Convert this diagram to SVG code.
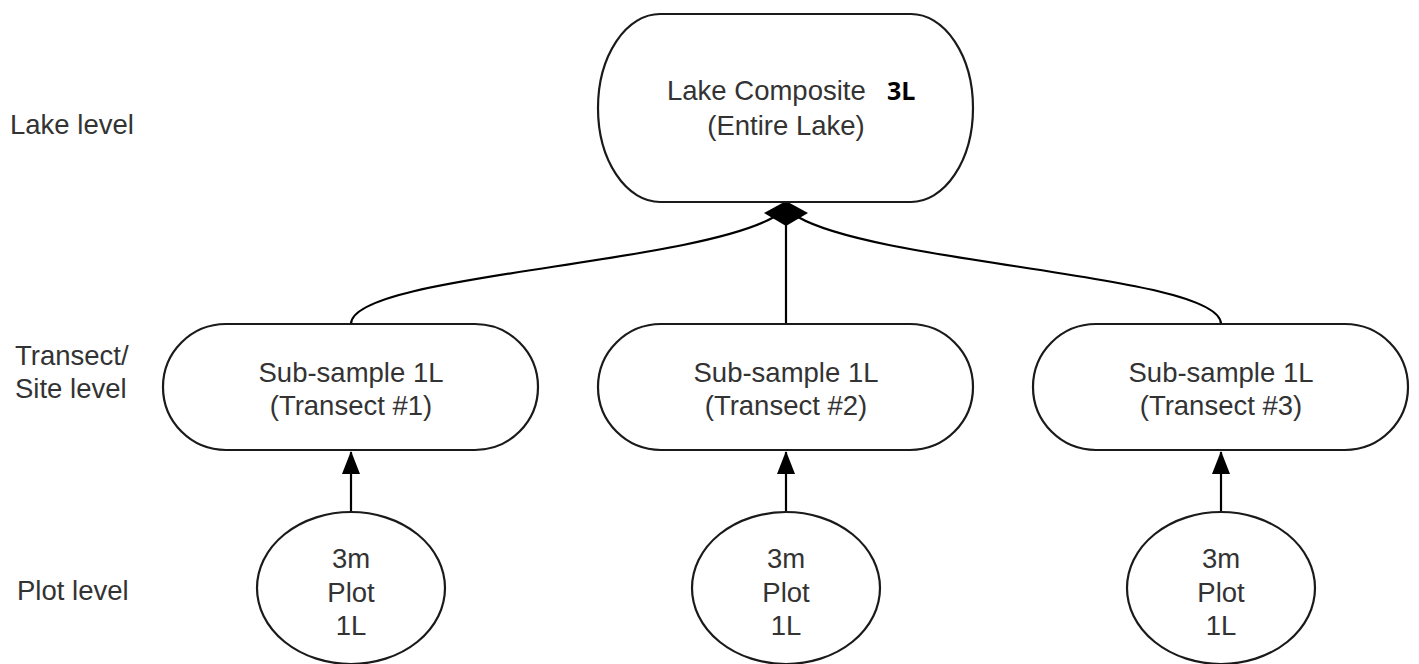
<svg xmlns="http://www.w3.org/2000/svg" width="1419" height="664" viewBox="0 0 1419 664">
<style>
.shape{fill:#ffffff;stroke:#1a1a1a;stroke-width:2.2}
.conn{fill:none;stroke:#000000;stroke-width:2.2}
.t{font-family:"Liberation Sans",Arial,sans-serif;font-size:27.5px;fill:#333333}
.c{text-anchor:middle}
.b{font-family:"Open Sans","Liberation Sans",sans-serif;font-size:25px;font-weight:bold;fill:#000000}
</style>
<defs>
<marker id="arr" markerUnits="userSpaceOnUse" markerWidth="23" markerHeight="18" refX="22" refY="9" orient="auto" viewBox="0 0 23 18">
<path d="M0,0 L23,9 L0,18 Z" fill="#000000"/>
</marker>
</defs>
<rect width="1419" height="664" fill="#ffffff"/>
<g id="labels">
<text class="t" x="10" y="134">Lake level</text>
<text class="t" x="15" y="365">Transect/</text>
<text class="t" x="15" y="398">Site level</text>
<text class="t" x="17" y="600">Plot level</text>
</g>
<g id="connectors">
<path class="conn" d="M351,324 C351,275 690,265 774,217"/>
<path class="conn" d="M1221,324 C1221,275 882,265 798,217"/>
<path class="conn" d="M786,324 L786,212"/>
<polygon points="786,201 808,213 786,226 764,213" fill="#000000"/>
<path class="conn" d="M351,512 L351,452" marker-end="url(#arr)"/>
<path class="conn" d="M786,512 L786,452" marker-end="url(#arr)"/>
<path class="conn" d="M1221,512 L1221,452" marker-end="url(#arr)"/>
</g>
<g id="lake">
<rect class="shape" x="598" y="14" width="375" height="188" rx="62" ry="94"/>
<text class="t" x="667" y="100">Lake Composite</text>
<text class="b" x="887" y="100">3L</text>
<text class="t c" x="786" y="135">(Entire Lake)</text>
</g>
<g id="sub1">
<rect class="shape" x="163" y="324" width="375" height="126" rx="63" ry="63"/>
<text class="t c" x="351" y="382">Sub-sample 1L</text>
<text class="t c" x="351" y="415">(Transect #1)</text>
</g>
<g id="sub2">
<rect class="shape" x="598" y="324" width="375" height="126" rx="63" ry="63"/>
<text class="t c" x="786" y="382">Sub-sample 1L</text>
<text class="t c" x="786" y="415">(Transect #2)</text>
</g>
<g id="sub3">
<rect class="shape" x="1033" y="324" width="375" height="126" rx="63" ry="63"/>
<text class="t c" x="1221" y="382">Sub-sample 1L</text>
<text class="t c" x="1221" y="415">(Transect #3)</text>
</g>
<g id="plot1">
<ellipse class="shape" cx="351" cy="588" rx="94" ry="76"/>
<text class="t c" x="351" y="568">3m</text>
<text class="t c" x="351" y="602">Plot</text>
<text class="t c" x="351" y="635">1L</text>
</g>
<g id="plot2">
<ellipse class="shape" cx="786" cy="588" rx="94" ry="76"/>
<text class="t c" x="786" y="568">3m</text>
<text class="t c" x="786" y="602">Plot</text>
<text class="t c" x="786" y="635">1L</text>
</g>
<g id="plot3">
<ellipse class="shape" cx="1221" cy="588" rx="94" ry="76"/>
<text class="t c" x="1221" y="568">3m</text>
<text class="t c" x="1221" y="602">Plot</text>
<text class="t c" x="1221" y="635">1L</text>
</g>
</svg>
